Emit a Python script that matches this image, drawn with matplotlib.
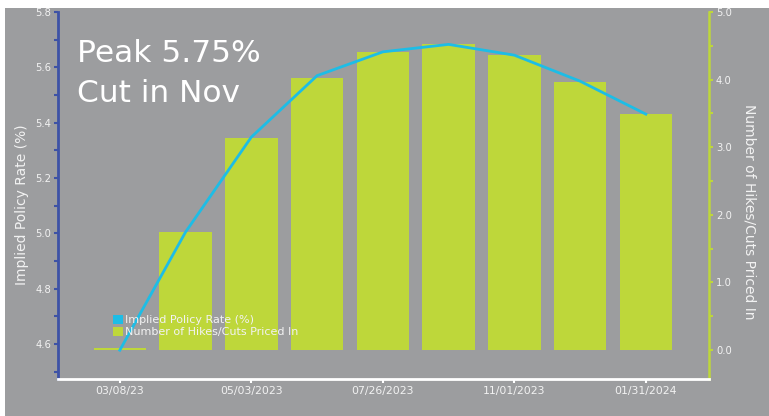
import matplotlib
matplotlib.use("Agg")
import matplotlib.pyplot as plt
from matplotlib.patches import Patch, Rectangle
import numpy as np

# ---- data ----
categories = ["03/08/23", "03/22/2023", "05/03/2023", "06/14/2023", "07/26/2023",
              "09/20/2023", "11/01/2023", "12/13/2023", "01/31/2024"]
implied_rate = [4.578, 5.005, 5.348, 5.570, 5.656, 5.683, 5.644, 5.550, 5.431]
hikes_priced = [0.03, 1.745, 3.14, 4.03, 4.41, 4.53, 4.36, 3.96, 3.49]
tick_idx = [0, 2, 4, 6, 8]
tick_labels = ["03/08/23", "05/03/2023", "07/26/2023", "11/01/2023", "01/31/2024"]
left_ticks = [4.6, 4.8, 5.0, 5.2, 5.4, 5.6, 5.8]
right_ticks = [0.0, 1.0, 2.0, 3.0, 4.0, 5.0]

BG = "#9c9d9f"
GREEN = "#bed73a"
CYAN = "#1dbde6"
BLUE = "#3d52a6"
TXT = "#f2f2f2"
FONT = "DejaVu Sans"

W, H = 769, 416
fig = plt.figure(figsize=(W / 100, H / 100), dpi=100, facecolor="white")
fig.patches.append(Rectangle((5 / W, 0), 1 - 5 / W, 1 - 8 / H, transform=fig.transFigure,
                             facecolor=BG, edgecolor="none", zorder=-10))

ax_l, ax_r, ax_b, ax_t = 58, 709, 379, 12
ax = fig.add_axes([ax_l / W, 1 - ax_b / H, (ax_r - ax_l) / W, (ax_b - ax_t) / H])
ax2 = ax.twinx()
ax.set_zorder(ax2.get_zorder() + 1)
ax.patch.set_visible(False)
ax2.patch.set_visible(False)

x = np.arange(len(categories))
bars = ax2.bar(x, hikes_priced, width=0.8, color=GREEN, zorder=2)
line, = ax.plot(x, implied_rate, color=CYAN, lw=2.0, zorder=3, solid_joinstyle="round")

ax.set_xlim(-0.94, 8.96)
ax.set_ylim(4.474, 5.8)
ax2.set_ylim(-0.43, 5.0)

ax.set_yticks(left_ticks)
ax.set_yticks(np.arange(4.5, 5.85, 0.1), minor=True)
ax.set_yticklabels([f"{v:.1f}" for v in left_ticks])
ax2.set_yticks(right_ticks)
ax2.set_yticks(np.arange(0.5, 5.0, 1.0), minor=True)
ax2.set_yticklabels([f"{v:.1f}" for v in right_ticks])
ax.set_xticks(tick_idx)
ax.set_xticklabels(tick_labels)

for s in ["top", "right"]:
    ax.spines[s].set_visible(False)
for s in ["top", "left", "bottom"]:
    ax2.spines[s].set_visible(False)
ax.spines["left"].set_color(BLUE)
ax.spines["left"].set_linewidth(2.0)
ax.spines["bottom"].set_color("white")
ax.spines["bottom"].set_linewidth(2.0)
ax2.spines["right"].set_color(GREEN)
ax2.spines["right"].set_linewidth(1.8)

ax.tick_params(axis="y", which="both", direction="out", length=3, width=1.5, color=BLUE,
               labelsize=7.2, labelcolor=TXT, pad=2)
ax.tick_params(axis="x", direction="out", length=3, width=1.5, color="white",
               labelsize=7.8, labelcolor=TXT, pad=2)
ax2.tick_params(axis="y", which="both", direction="out", length=3, width=1.5, color=GREEN,
                labelsize=7.2, labelcolor=TXT, pad=2)
for lab in ax.get_xticklabels() + ax.get_yticklabels() + ax2.get_yticklabels():
    lab.set_fontfamily(FONT)

fig.text(22 / W, 1 - 205 / H, "Implied Policy Rate (%)", rotation=90, color=TXT,
         fontsize=10, family=FONT, ha="center", va="center")
fig.text(749 / W, 1 - 212 / H, "Number of Hikes/Cuts Priced In", rotation=270, color=TXT,
         fontsize=10, family=FONT, ha="center", va="center")

fig.text(77 / W, 1 - 62 / H, "Peak 5.75%", color="white", fontsize=22.5, family=FONT,
         ha="left", va="baseline")
fig.text(77 / W, 1 - 102 / H, "Cut in Nov", color="white", fontsize=22.5, family=FONT,
         ha="left", va="baseline")

handles = [Patch(facecolor=CYAN, edgecolor="none"), Patch(facecolor=GREEN, edgecolor="none")]
leg = ax.legend(handles, ["Implied Policy Rate (%)", "Number of Hikes/Cuts Priced In"],
                loc="upper left", bbox_to_anchor=((113 - ax_l) / (ax_r - ax_l), (ax_b - 315) / (ax_b - ax_t)),
                frameon=False, borderpad=0, borderaxespad=0, handlelength=0.9, handleheight=0.9,
                handletextpad=0.15, labelspacing=0.1,
                prop={"family": FONT, "size": 8})
for t in leg.get_texts():
    t.set_color(TXT)

fig.savefig("out.png", dpi=100, facecolor=fig.get_facecolor())
